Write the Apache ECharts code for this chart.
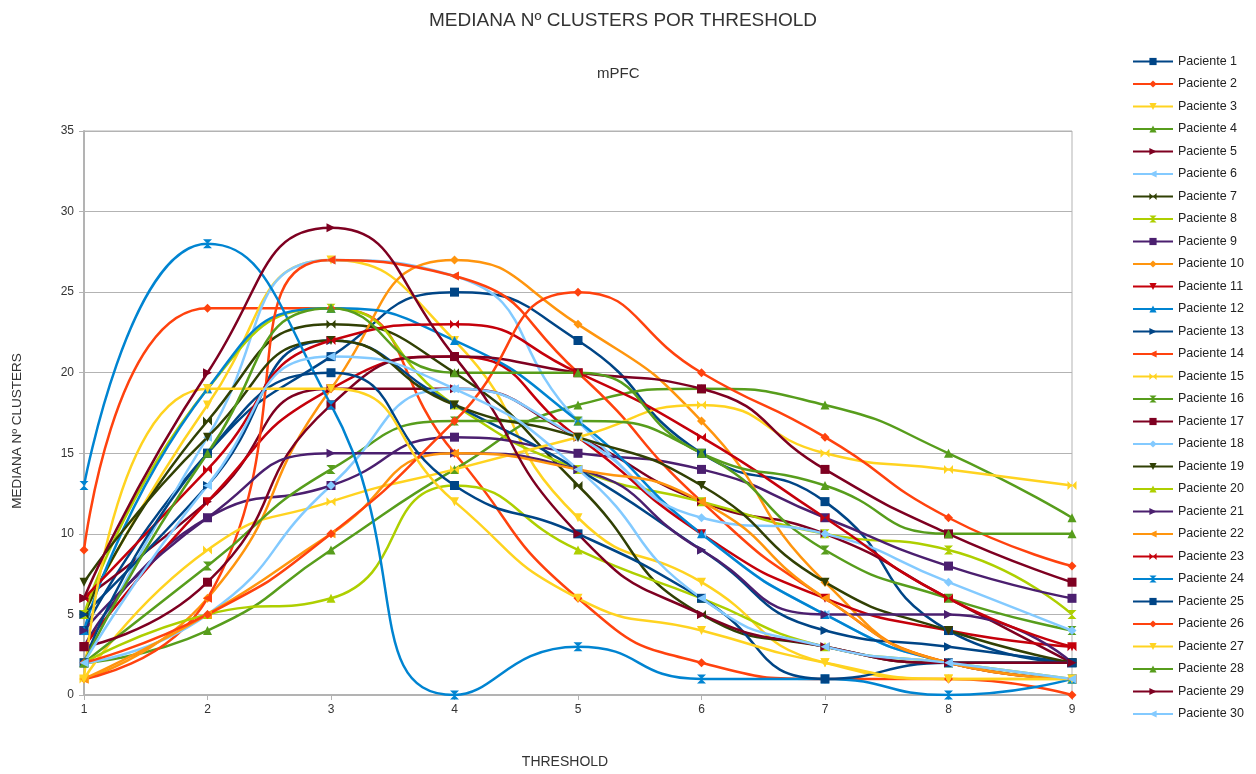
<!DOCTYPE html>
<html>
<head>
<meta charset="utf-8">
<script src="https://cdn.jsdelivr.net/npm/echarts@6/dist/echarts.min.js"></script>
<style>
html,body{margin:0;padding:0;background:#fff;}
#chart{width:1256px;height:774px;}
</style>
</head>
<body>
<div id="chart"></div>
<script>
// ---- Data ----
const thresholds = ['1','2','3','4','5','6','7','8','9'];
const seriesNames = ['Paciente 1','Paciente 2','Paciente 3','Paciente 4','Paciente 5','Paciente 6','Paciente 7','Paciente 8','Paciente 9','Paciente 10',
  'Paciente 11','Paciente 12','Paciente 13','Paciente 14','Paciente 15','Paciente 16','Paciente 17','Paciente 18','Paciente 19','Paciente 20',
  'Paciente 21','Paciente 22','Paciente 23','Paciente 24','Paciente 25','Paciente 26','Paciente 27','Paciente 28','Paciente 29','Paciente 30'];

const p01 = [4, 15, 21, 25, 22, 15, 12, 4, 2];
const p02 = [9, 24, 24, 15, 6, 2, 1, 1, 0];
const p03 = [5, 18, 27, 22, 11, 7, 2, 1, 1];
const p04 = [2, 4, 9, 14, 18, 19, 18, 15, 11];
const p05 = [6, 12, 19, 19, 16, 12, 10, 6, 2];
const p06 = [2, 16, 27, 26, 17, 10, 5, 2, 1];
const p07 = [5, 17, 23, 20, 13, 5, 3, 2, 2];
const p08 = [5, 19, 24, 18, 14, 12, 10, 9, 5];
const p09 = [3, 11, 13, 16, 15, 14, 11, 8, 6];
const p10 = [1, 6, 19, 27, 23, 17, 7, 2, 1];
const p11 = [3, 12, 19, 21, 16, 10, 6, 4, 3];
const p12 = [4, 19, 24, 22, 17, 10, 5, 2, 1];
const p13 = [5, 13, 22, 18, 14, 9, 4, 3, 2];
const p14 = [1, 6, 27, 26, 20, 12, 6, 2, 1];
const p15 = [1, 9, 12, 14, 16, 18, 15, 14, 13];
const p16 = [2, 8, 14, 17, 17, 15, 9, 6, 4];
const p17 = [3, 7, 18, 21, 20, 19, 14, 10, 7];
const p18 = [2, 5, 13, 19, 16, 11, 10, 7, 4];
const p19 = [7, 16, 22, 18, 16, 13, 7, 4, 2];
const p20 = [2, 5, 6, 13, 9, 6, 3, 2, 1];
const p21 = [4, 11, 15, 15, 14, 9, 5, 5, 2];
const p22 = [1, 5, 10, 15, 14, 12, 6, 2, 1];
const p23 = [6, 14, 22, 23, 20, 16, 11, 6, 3];
const p24 = [13, 28, 18, 0, 3, 1, 1, 0, 1];
const p25 = [2, 15, 20, 13, 10, 6, 1, 2, 2];
const p26 = [2, 5, 10, 17, 25, 20, 16, 11, 8];
const p27 = [1, 19, 19, 12, 6, 4, 2, 1, 1];
const p28 = [2, 15, 24, 20, 20, 15, 13, 10, 10];
const p29 = [6, 20, 29, 21, 10, 5, 3, 2, 2];
const p30 = [2, 13, 21, 19, 14, 6, 3, 2, 1];

const allValues = [p01,p02,p03,p04,p05,p06,p07,p08,p09,p10,p11,p12,p13,p14,p15,p16,p17,p18,p19,p20,p21,p22,p23,p24,p25,p26,p27,p28,p29,p30];

// ---- Styles ----
const palette = ['#004586','#ff420e','#ffd320','#579d1c','#7e0021','#83caff','#314004','#aecf00','#4b1f6f','#ff950e','#c5000b','#0084d1'];
const symbols = [
  'rect',
  'diamond',
  'path://M0,0 L10,0 L5,10 Z',
  'triangle',
  'path://M0,0 L10,5 L0,10 Z',
  'path://M10,0 L0,5 L10,10 Z',
  'path://M0,0 L10,10 L10,0 L0,10 Z',
  'path://M0,0 L10,0 L0,10 L10,10 Z'
];
const FONT = '"Liberation Sans", Arial, sans-serif';

const series = allValues.map((vals, i) => ({
  name: seriesNames[i],
  type: 'line',
  data: vals,
  smooth: 0.55,
  symbol: symbols[i % 8],
  symbolSize: 9,
  showSymbol: true,
  clip: true,
  lineStyle: { width: 2.5, color: palette[i % 12] },
  itemStyle: { color: palette[i % 12] },
  emphasis: { disabled: true }
}));

const chart = echarts.init(document.getElementById('chart'), null, { renderer: 'canvas' });
chart.setOption({
  animation: false,
  backgroundColor: '#ffffff',
  title: [
    { text: 'MEDIANA Nº CLUSTERS POR THRESHOLD', left: 424, top: 6,
      textStyle: { fontFamily: FONT, fontSize: 19, fontWeight: 'normal', color: '#333' } },
    { text: 'mPFC', left: 592, top: 61,
      textStyle: { fontFamily: FONT, fontSize: 15, fontWeight: 'normal', color: '#333' } }
  ],
  legend: {
    orient: 'vertical',
    left: 1127,
    top: 50,
    itemWidth: 40,
    itemHeight: 9,
    itemGap: 9.5,
    textStyle: { fontFamily: FONT, fontSize: 12.5, color: '#222' },
    data: seriesNames
  },
  grid: { left: 84, right: 184, top: 131, bottom: 72, show: true, borderColor: '#b3b3b3', borderWidth: 1, containLabel: false },
  xAxis: {
    type: 'category',
    data: thresholds,
    boundaryGap: false,
    name: 'THRESHOLD',
    nameLocation: 'middle',
    nameGap: 60,
    nameTextStyle: { fontFamily: FONT, fontSize: 14, color: '#333', padding: [0, 26, 0, 0] },
    axisLine: { lineStyle: { color: '#b3b3b3', width: 2 } },
    axisTick: { show: true, length: 5, lineStyle: { color: '#b3b3b3' } },
    axisLabel: { fontFamily: FONT, fontSize: 12, color: '#333', margin: 9 },
    splitLine: { show: false }
  },
  yAxis: {
    type: 'value',
    min: 0, max: 35, interval: 5,
    name: 'MEDIANA Nº CLUSTERS',
    nameLocation: 'middle',
    nameGap: 60,
    nameRotate: 90,
    nameTextStyle: { fontFamily: FONT, fontSize: 13.5, color: '#333', padding: [0, 36, 0, 0] },
    axisLine: { show: true, lineStyle: { color: '#b3b3b3', width: 2 } },
    axisTick: { show: true, length: 5, lineStyle: { color: '#b3b3b3' } },
    axisLabel: { fontFamily: FONT, fontSize: 12, color: '#333', margin: 10 },
    splitLine: { lineStyle: { color: '#b3b3b3', width: 1 } }
  },
  series: series
});
</script>
</body>
</html>
